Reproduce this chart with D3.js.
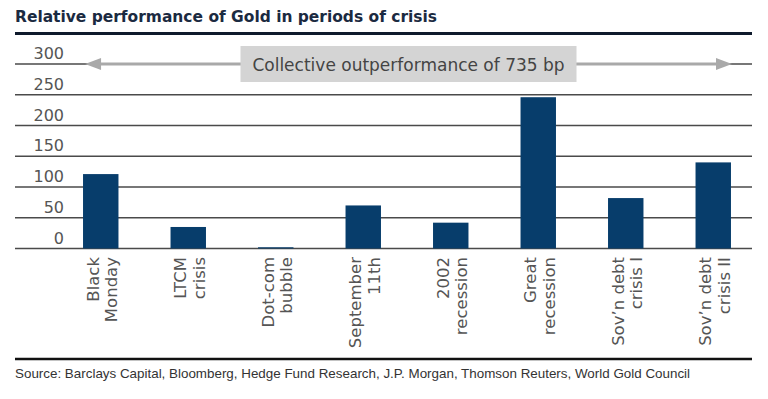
<!DOCTYPE html>
<html>
<head>
<meta charset="utf-8">
<script src="https://cdn.jsdelivr.net/npm/d3@7"></script>
<style>
  body { margin: 0; background: #fff; }
  svg { display: block; }
</style>
</head>
<body>
<svg id="chart" width="768" height="399"></svg>
<script>
// chart data
var categories = [
    ["Black", "Monday"],
    ["LTCM", "crisis"],
    ["Dot-com", "bubble"],
    ["September", "11th"],
    ["2002", "recession"],
    ["Great", "recession"],
    ["Sov\u2019n debt", "crisis I"],
    ["Sov\u2019n debt", "crisis II"]
];
var values = [121, 35, 2, 70, 42, 246, 82, 140];
var tickValues = [0, 50, 100, 150, 200, 250, 300];
var titleText = "Relative performance of Gold in periods of crisis";
var noteText = "Collective outperformance of 735 bp";
var sourceText = "Source: Barclays Capital, Bloomberg, Hedge Fund Research, J.P. Morgan, Thomson Reuters, World Gold Council";

var svg = d3.select("#chart");
var left = 15, right = 752;

var x = d3.scaleBand()
    .domain(d3.range(categories.length))
    .range([57, 757])
    .paddingInner(0.595)
    .paddingOuter(0.2975);

var y = d3.scaleLinear()
    .domain([0, 300])
    .range([248.5, 64]);

// title + rule under it
svg.append("text")
    .attr("x", left)
    .attr("y", 22)
    .attr("font-family", "DejaVu Sans, sans-serif")
    .attr("font-weight", "bold")
    .attr("font-size", 15.5)
    .attr("fill", "#1b2a41")
    .attr("textLength", 422)
    .attr("lengthAdjust", "spacingAndGlyphs")
    .text(titleText);

svg.append("line")
    .attr("x1", left).attr("x2", right)
    .attr("y1", 33.5).attr("y2", 33.5)
    .attr("stroke", "#0e1a2c")
    .attr("stroke-width", 3);

// gridlines with labels sitting on top of them
var grid = svg.append("g").attr("class", "grid");
grid.selectAll("line")
    .data(tickValues)
    .enter()
    .append("line")
    .attr("x1", left).attr("x2", right)
    .attr("y1", function(d) { return y(d); })
    .attr("y2", function(d) { return y(d); })
    .attr("stroke", "#4a4a4a")
    .attr("stroke-width", 1.6);

grid.selectAll("text")
    .data(tickValues)
    .enter()
    .append("text")
    .attr("x", 64)
    .attr("y", function(d) { return y(d) - 5; })
    .attr("text-anchor", "end")
    .attr("font-family", "DejaVu Sans, sans-serif")
    .attr("font-size", 16)
    .attr("fill", "#555")
    .text(function(d) { return d; });

// bars
svg.append("g")
    .selectAll("rect")
    .data(values)
    .enter()
    .append("rect")
    .attr("x", function(d, i) { return x(i); })
    .attr("width", x.bandwidth())
    .attr("y", function(d) { return y(d); })
    .attr("height", function(d) { return y(0) - y(d); })
    .attr("fill", "#073d6b");

// arrow across all crises
var ax1 = x(0) + 2, ax2 = x(categories.length - 1) + x.bandwidth() + 1, ay = y(300);
svg.append("line")
    .attr("x1", ax1 + 10).attr("x2", ax2 - 10)
    .attr("y1", ay).attr("y2", ay)
    .attr("stroke", "#a9a9a9")
    .attr("stroke-width", 3);
svg.append("path")
    .attr("d", "M" + ax1 + "," + ay + "L" + (ax1 + 16) + "," + (ay - 6) + "L" + (ax1 + 16) + "," + (ay + 6) + "Z")
    .attr("fill", "#a9a9a9");
svg.append("path")
    .attr("d", "M" + ax2 + "," + ay + "L" + (ax2 - 16) + "," + (ay - 6) + "L" + (ax2 - 16) + "," + (ay + 6) + "Z")
    .attr("fill", "#a9a9a9");

var mid = (ax1 + ax2) / 2;
svg.append("rect")
    .attr("x", mid - 168).attr("width", 336)
    .attr("y", ay - 18).attr("height", 36)
    .attr("fill", "#d4d4d4");
svg.append("text")
    .attr("x", mid)
    .attr("y", ay + 6.5)
    .attr("text-anchor", "middle")
    .attr("font-family", "DejaVu Sans, sans-serif")
    .attr("font-size", 17)
    .attr("fill", "#444")
    .text(noteText);

// rotated category labels, two lines each
var lab = svg.append("g")
    .selectAll("text")
    .data(categories)
    .enter()
    .append("text")
    .attr("transform", function(d, i) {
        return "translate(" + (x(i) + x.bandwidth() / 2) + ",257) rotate(-90)";
    })
    .attr("text-anchor", "end")
    .attr("font-family", "DejaVu Sans, sans-serif")
    .attr("font-size", 16.5)
    .attr("fill", "#555");

lab.append("tspan")
    .attr("x", 0).attr("y", -2)
    .text(function(d) { return d[0]; });
lab.append("tspan")
    .attr("x", 0).attr("y", 16.5)
    .text(function(d) { return d[1]; });

// footer
svg.append("line")
    .attr("x1", left).attr("x2", right)
    .attr("y1", 359).attr("y2", 359)
    .attr("stroke", "#111")
    .attr("stroke-width", 2.5);

svg.append("text")
    .attr("x", left)
    .attr("y", 378)
    .attr("font-family", "Liberation Sans, sans-serif")
    .attr("font-size", 13.4)
    .attr("fill", "#333")
    .text(sourceText);
</script>
</body>
</html>
